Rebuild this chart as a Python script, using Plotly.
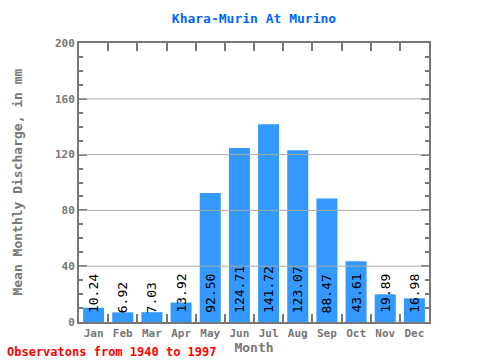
import plotly.graph_objects as go

months = ["Jan", "Feb", "Mar", "Apr", "May", "Jun", "Jul", "Aug", "Sep", "Oct", "Nov", "Dec"]
discharge = [10.24, 6.92, 7.03, 13.92, 92.50, 124.71, 141.72, 123.07, 88.47, 43.61, 19.89, 16.98]
y_ticks = [0, 40, 80, 120, 160, 200]
grid_vals = [40, 80, 120, 160]

axis_color = "#777777"
mono = "DejaVu Sans Mono"

fig = go.Figure()
fig.add_trace(go.Bar(
    x=months, y=discharge,
    marker=dict(color="#3399ff", line=dict(width=0)),
    hoverinfo="skip",
))

for m, v in zip(months, discharge):
    fig.add_annotation(
        x=m, y=0, xref="x", yref="y",
        text=f"{v:.2f}", textangle=-90,
        xanchor="center", yanchor="bottom", yshift=7,
        showarrow=False,
        font=dict(family=mono, size=13, color="black"),
    )

for g in grid_vals:
    fig.add_shape(type="line", xref="paper", yref="y", x0=0, x1=1, y0=g, y1=g,
                  line=dict(color="#aaaaaa", width=1), layer="above")

fig.add_annotation(
    x=-0.2114, y=-0.1075, xref="paper", yref="paper",
    xanchor="left", yanchor="middle", showarrow=False,
    text="Observatons from 1940 to 1997",
    font=dict(family=mono, size=12, color="#ff0000", weight="bold"),
)

fig.add_annotation(
    x=-0.177, y=0.5, xref="paper", yref="paper",
    xanchor="center", yanchor="middle", showarrow=False, textangle=-90,
    text="Mean Monthly Discharge, in mm",
    font=dict(family=mono, size=13, color=axis_color, weight="bold"),
)

fig.update_layout(
    width=480, height=360,
    margin=dict(l=79, r=51, t=43, b=38),
    paper_bgcolor="white", plot_bgcolor="white",
    bargap=0.28,
    showlegend=False,
    title=dict(text="Khara-Murin At Murino", x=254/480, xanchor="center",
               y=1 - 18/360, yanchor="middle",
               font=dict(family=mono, size=13, color="#0066ff", weight="bold")),
    xaxis=dict(
        showline=True, linecolor=axis_color, linewidth=2, mirror="ticks",
        ticks="inside", tickson="boundaries", ticklen=8, tickwidth=2, tickcolor=axis_color,
        tickangle=0, automargin=False,
        tickfont=dict(family=mono, size=11, color=axis_color, weight="bold"),
        title=dict(text="Month", standoff=2,
                   font=dict(family=mono, size=13, color=axis_color, weight="bold")),
        showgrid=False,
    ),
    yaxis=dict(
        range=[0, 200], tickvals=y_ticks, automargin=False,
        showline=True, linecolor=axis_color, linewidth=2, mirror="ticks",
        ticks="inside", ticklen=8, tickwidth=2, tickcolor=axis_color,
        minor=dict(dtick=10, ticks="inside", ticklen=4, tickwidth=2, tickcolor=axis_color, showgrid=False),
        tickfont=dict(family=mono, size=11, color=axis_color, weight="bold"),
        showgrid=False, zeroline=False,
    ),
)

fig.write_html("out.html")
